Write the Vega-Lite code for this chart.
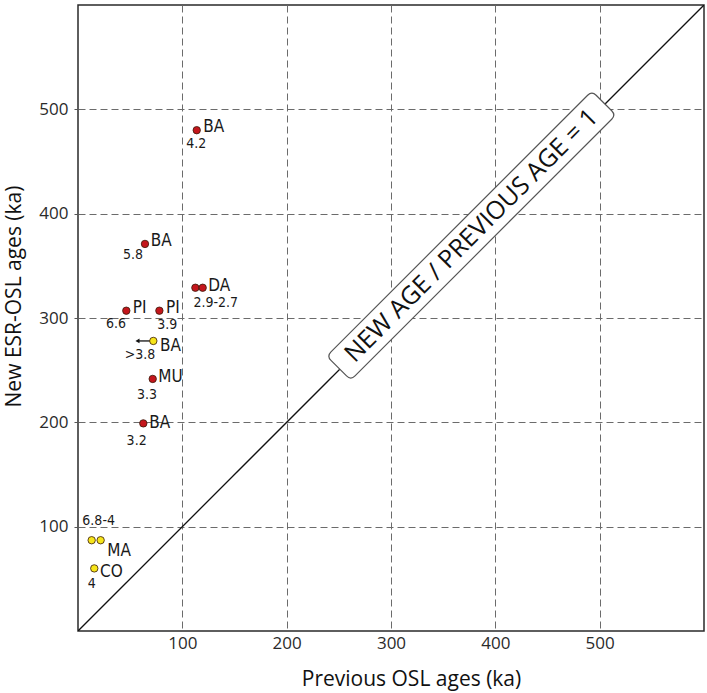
{
  "$schema": "https://vega.github.io/schema/vega-lite/v6.json",
  "width": 626,
  "height": 626,
  "autosize": {"type": "none"},
  "padding": {"left": 78, "top": 5, "right": 3, "bottom": 62},
  "background": "white",
  "config": {
    "view": {"stroke": "#2a2a2a", "strokeWidth": 1.5},
    "axis": {
      "labelFont": "Open Sans",
      "labelFontSize": 17,
      "labelColor": "#2a2a2a",
      "titleFont": "Open Sans",
      "titleFontSize": 21,
      "titleFontWeight": "normal",
      "titleColor": "#111111",
      "gridDash": [7, 4],
      "gridColor": "#6b6b6b",
      "gridWidth": 1,
      "gridOpacity": 1,
      "domain": false
    }
  },
  "datasets": {
    "diag": [{"x": 0, "y": 0}, {"x": 600, "y": 600}],
    "arrow": [{"x": 69, "x2": 58.5, "y": 278}],
    "arrowhead": [{"x": 57, "y": 278}],
    "pts": [
      {"x": 113.8, "y": 480, "group": "red"},
      {"x": 64.2, "y": 371, "group": "red"},
      {"x": 112.5, "y": 329, "group": "red"},
      {"x": 119.5, "y": 329, "group": "red"},
      {"x": 46.3, "y": 307, "group": "red"},
      {"x": 78, "y": 307, "group": "red"},
      {"x": 71.6, "y": 241.6, "group": "red"},
      {"x": 62.6, "y": 199, "group": "red"},
      {"x": 72.2, "y": 278, "group": "yellow"},
      {"x": 13.1, "y": 87, "group": "yellow"},
      {"x": 21.7, "y": 87, "group": "yellow"},
      {"x": 15.6, "y": 60, "group": "yellow"}
    ],
    "names": [
      {"x": 120, "y": 482.6, "label": "BA"},
      {"x": 69.7, "y": 373.8, "label": "BA"},
      {"x": 124.9, "y": 330.9, "label": "DA"},
      {"x": 52.4, "y": 310, "label": "PI"},
      {"x": 84.3, "y": 310, "label": "PI"},
      {"x": 78.6, "y": 273.5, "label": "BA"},
      {"x": 77, "y": 243, "label": "MU"},
      {"x": 68.3, "y": 199.8, "label": "BA"},
      {"x": 28.1, "y": 76.9, "label": "MA"},
      {"x": 21.1, "y": 56.8, "label": "CO"}
    ],
    "nums": [
      {"x": 113.4, "y": 466.6, "label": "4.2"},
      {"x": 52.7, "y": 360.4, "label": "5.8"},
      {"x": 132, "y": 314, "label": "2.9-2.7"},
      {"x": 36.4, "y": 294, "label": "6.6"},
      {"x": 85.5, "y": 293.5, "label": "3.9"},
      {"x": 59.4, "y": 264.5, "label": ">3.8"},
      {"x": 66.1, "y": 226.2, "label": "3.3"},
      {"x": 56.2, "y": 182.4, "label": "3.2"},
      {"x": 19.8, "y": 105.6, "label": "6.8-4"},
      {"x": 13.1, "y": 44.9, "label": "4"}
    ],
    "boxlabel": [{"x": 377, "y": 379, "label": "NEW AGE / PREVIOUS AGE = 1"}]
  },
  "encoding": {
    "x": {
      "field": "x",
      "type": "quantitative",
      "scale": {"domain": [0, 600], "nice": false, "zero": false},
      "axis": {
        "values": [100, 200, 300, 400, 500],
        "title": "Previous OSL ages (ka)",
        "ticks": false,
        "labelPadding": 4,
        "titleX": 333,
        "titleY": 54,
        "titleAlign": "center",
        "titleBaseline": "alphabetic"
      }
    },
    "y": {
      "field": "y",
      "type": "quantitative",
      "scale": {"domain": [0, 600], "nice": false, "zero": false},
      "axis": {
        "values": [100, 200, 300, 400, 500],
        "title": "New ESR-OSL ages (ka)",
        "ticks": true,
        "tickSize": 4,
        "tickColor": "#555555",
        "labelPadding": 6,
        "titleX": -58,
        "titleY": 291,
        "titleAngle": -90,
        "titleAlign": "center",
        "titleBaseline": "alphabetic"
      }
    }
  },
  "layer": [
    {
      "data": {"name": "diag"},
      "mark": {"type": "line", "color": "#111111", "strokeWidth": 1.3, "clip": true}
    },
    {
      "data": {"name": "arrow"},
      "mark": {"type": "rule", "color": "#111111", "strokeWidth": 1.3},
      "encoding": {"x2": {"field": "x2"}}
    },
    {
      "data": {"name": "arrowhead"},
      "mark": {"type": "point", "shape": "triangle-left", "filled": true, "color": "#111111", "size": 22, "opacity": 1}
    },
    {
      "data": {"name": "pts"},
      "mark": {"type": "circle", "size": 55, "opacity": 1, "stroke": "#3a1a0a", "strokeWidth": 0.8},
      "encoding": {
        "color": {
          "field": "group",
          "type": "nominal",
          "scale": {"domain": ["red", "yellow"], "range": ["#c4161c", "#f6e51a"]},
          "legend": null
        }
      }
    },
    {
      "data": {"name": "names"},
      "mark": {"type": "text", "align": "left", "baseline": "middle", "font": "DejaVu Sans Condensed, DejaVu Sans", "fontSize": 17, "color": "#1a1a1a"},
      "encoding": {"text": {"field": "label"}}
    },
    {
      "data": {"name": "nums"},
      "mark": {"type": "text", "align": "center", "baseline": "middle", "font": "DejaVu Sans Condensed, DejaVu Sans", "fontSize": 14, "color": "#1a1a1a"},
      "encoding": {"text": {"field": "label"}}
    },
    {
      "data": {"name": "boxlabel"},
      "mark": {
        "type": "point",
        "shape": "M-0.968,-0.0907 L0.968,-0.0907 Q1,-0.0907 1,-0.0587 L1,0.0587 Q1,0.0907 0.968,0.0907 L-0.968,0.0907 Q-1,0.0907 -1,0.0587 L-1,-0.0587 Q-1,-0.0907 -0.968,-0.0907 Z",
        "size": 140625,
        "angle": -45,
        "filled": true,
        "fill": "white",
        "stroke": "#555555",
        "strokeWidth": 1.2,
        "opacity": 1,
        "fillOpacity": 1
      }
    },
    {
      "data": {"name": "boxlabel"},
      "mark": {"type": "text", "align": "center", "baseline": "middle", "angle": -45, "font": "Open Sans", "fontSize": 25, "color": "#111111"},
      "encoding": {"text": {"field": "label"}}
    }
  ]
}
